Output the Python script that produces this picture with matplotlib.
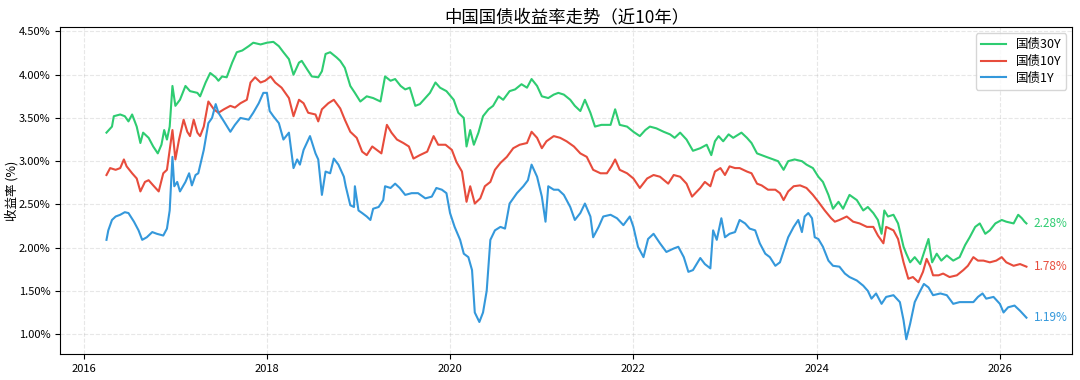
import pandas as pd
import matplotlib
matplotlib.use("Agg")
import matplotlib.pyplot as plt
import matplotlib.dates as mdates
from matplotlib.ticker import FuncFormatter

plt.rcParams['font.family'] = ['Noto Sans CJK SC', 'DejaVu Sans']
plt.rcParams['axes.unicode_minus'] = False

# (decimal year, yield %)
cgb_30y = [
    (2016.25, 3.33), (2016.31, 3.40), (2016.33, 3.52), (2016.40, 3.54), (2016.45, 3.52),
    (2016.49, 3.46), (2016.53, 3.54), (2016.58, 3.40), (2016.62, 3.21), (2016.65, 3.33),
    (2016.71, 3.27), (2016.76, 3.17), (2016.81, 3.09), (2016.85, 3.19), (2016.88, 3.36),
    (2016.91, 3.25), (2016.94, 3.40), (2016.97, 3.87), (2017.00, 3.64), (2017.05, 3.71),
    (2017.11, 3.87), (2017.16, 3.81), (2017.24, 3.79), (2017.27, 3.75), (2017.33, 3.91),
    (2017.38, 4.02), (2017.44, 3.97), (2017.47, 3.93), (2017.51, 3.98), (2017.56, 3.97),
    (2017.62, 4.14), (2017.67, 4.26), (2017.73, 4.28), (2017.80, 4.33), (2017.85, 4.37),
    (2017.93, 4.35), (2018.00, 4.37), (2018.07, 4.38), (2018.13, 4.33), (2018.18, 4.26),
    (2018.24, 4.18), (2018.29, 4.00), (2018.35, 4.14), (2018.38, 4.16), (2018.44, 4.06),
    (2018.49, 3.98), (2018.56, 3.97), (2018.60, 4.04), (2018.64, 4.24), (2018.69, 4.26),
    (2018.76, 4.20), (2018.80, 4.16), (2018.85, 4.08), (2018.91, 3.87), (2018.96, 3.79),
    (2019.02, 3.69), (2019.09, 3.75), (2019.16, 3.73), (2019.24, 3.69), (2019.29, 3.98),
    (2019.35, 3.93), (2019.40, 3.95), (2019.46, 3.87), (2019.51, 3.83), (2019.56, 3.85),
    (2019.62, 3.64), (2019.67, 3.66), (2019.73, 3.73), (2019.78, 3.79), (2019.84, 3.91),
    (2019.89, 3.85), (2019.96, 3.81), (2020.04, 3.71), (2020.09, 3.56), (2020.15, 3.50),
    (2020.18, 3.17), (2020.22, 3.36), (2020.26, 3.19), (2020.31, 3.33), (2020.36, 3.52),
    (2020.42, 3.60), (2020.47, 3.64), (2020.53, 3.75), (2020.58, 3.71), (2020.65, 3.81),
    (2020.71, 3.83), (2020.78, 3.89), (2020.84, 3.85), (2020.89, 3.95), (2020.95, 3.87),
    (2021.00, 3.75), (2021.07, 3.73), (2021.13, 3.77), (2021.18, 3.79), (2021.24, 3.77),
    (2021.31, 3.71), (2021.36, 3.64), (2021.42, 3.58), (2021.47, 3.71), (2021.53, 3.56),
    (2021.58, 3.40), (2021.65, 3.42), (2021.75, 3.42), (2021.80, 3.60), (2021.85, 3.42),
    (2021.93, 3.40), (2022.00, 3.34), (2022.07, 3.29), (2022.13, 3.36), (2022.18, 3.40),
    (2022.25, 3.38), (2022.33, 3.34), (2022.40, 3.31), (2022.45, 3.27), (2022.51, 3.33),
    (2022.58, 3.25), (2022.65, 3.12), (2022.73, 3.15), (2022.80, 3.19), (2022.85, 3.07),
    (2022.89, 3.23), (2022.93, 3.29), (2022.98, 3.23), (2023.04, 3.31), (2023.09, 3.27),
    (2023.15, 3.31), (2023.18, 3.33), (2023.24, 3.27), (2023.29, 3.21), (2023.35, 3.09),
    (2023.40, 3.07), (2023.45, 3.05), (2023.53, 3.02), (2023.58, 3.00), (2023.64, 2.90),
    (2023.69, 3.00), (2023.76, 3.02), (2023.84, 3.00), (2023.89, 2.96), (2023.96, 2.92),
    (2024.02, 2.82), (2024.07, 2.76), (2024.13, 2.61), (2024.18, 2.45), (2024.24, 2.53),
    (2024.29, 2.45), (2024.36, 2.61), (2024.44, 2.55), (2024.51, 2.43), (2024.56, 2.47),
    (2024.62, 2.40), (2024.67, 2.32), (2024.71, 2.16), (2024.74, 2.43), (2024.78, 2.36),
    (2024.84, 2.38), (2024.89, 2.28), (2024.95, 2.01), (2024.98, 1.93), (2025.02, 1.83),
    (2025.07, 1.89), (2025.13, 1.81), (2025.18, 1.97), (2025.22, 2.10), (2025.26, 1.83),
    (2025.31, 1.93), (2025.36, 1.85), (2025.42, 1.91), (2025.49, 1.85), (2025.56, 1.89),
    (2025.62, 2.03), (2025.67, 2.12), (2025.73, 2.24), (2025.78, 2.28), (2025.84, 2.16),
    (2025.89, 2.20), (2025.95, 2.28), (2026.02, 2.32), (2026.07, 2.30), (2026.15, 2.28),
    (2026.20, 2.38), (2026.24, 2.34), (2026.27, 2.30), (2026.29, 2.28),
]

cgb_10y = [
    (2016.25, 2.84), (2016.29, 2.92), (2016.35, 2.90), (2016.40, 2.92), (2016.44, 3.02),
    (2016.47, 2.94), (2016.53, 2.86), (2016.58, 2.80), (2016.62, 2.65), (2016.67, 2.76),
    (2016.71, 2.78), (2016.76, 2.72), (2016.82, 2.65), (2016.87, 2.86), (2016.91, 2.90),
    (2016.95, 3.21), (2016.97, 3.36), (2017.00, 3.02), (2017.04, 3.25), (2017.09, 3.48),
    (2017.13, 3.34), (2017.16, 3.29), (2017.20, 3.48), (2017.24, 3.33), (2017.27, 3.29),
    (2017.31, 3.40), (2017.36, 3.69), (2017.42, 3.60), (2017.47, 3.56), (2017.53, 3.60),
    (2017.60, 3.64), (2017.65, 3.62), (2017.71, 3.67), (2017.78, 3.71), (2017.82, 3.91),
    (2017.87, 3.97), (2017.93, 3.91), (2017.98, 3.93), (2018.04, 3.98), (2018.09, 3.91),
    (2018.16, 3.85), (2018.24, 3.73), (2018.29, 3.52), (2018.35, 3.71), (2018.40, 3.67),
    (2018.45, 3.56), (2018.53, 3.54), (2018.56, 3.46), (2018.60, 3.60), (2018.67, 3.67),
    (2018.73, 3.71), (2018.80, 3.61), (2018.85, 3.48), (2018.91, 3.34), (2018.98, 3.27),
    (2019.04, 3.11), (2019.09, 3.07), (2019.15, 3.17), (2019.20, 3.13), (2019.25, 3.09),
    (2019.31, 3.42), (2019.36, 3.33), (2019.42, 3.25), (2019.49, 3.21), (2019.55, 3.17),
    (2019.60, 3.03), (2019.67, 3.07), (2019.75, 3.11), (2019.82, 3.29), (2019.87, 3.19),
    (2019.95, 3.19), (2020.02, 3.13), (2020.07, 2.99), (2020.13, 2.88), (2020.18, 2.53),
    (2020.22, 2.71), (2020.27, 2.51), (2020.33, 2.57), (2020.38, 2.71), (2020.44, 2.76),
    (2020.49, 2.90), (2020.55, 2.98), (2020.62, 3.05), (2020.69, 3.15), (2020.76, 3.19),
    (2020.84, 3.21), (2020.89, 3.34), (2020.95, 3.27), (2021.00, 3.15), (2021.05, 3.23),
    (2021.13, 3.29), (2021.20, 3.27), (2021.27, 3.23), (2021.35, 3.17), (2021.42, 3.09),
    (2021.49, 3.05), (2021.56, 2.90), (2021.64, 2.86), (2021.71, 2.86), (2021.76, 2.94),
    (2021.80, 3.02), (2021.85, 2.90), (2021.93, 2.86), (2022.00, 2.80), (2022.07, 2.69),
    (2022.15, 2.80), (2022.22, 2.84), (2022.29, 2.82), (2022.38, 2.74), (2022.44, 2.84),
    (2022.51, 2.82), (2022.58, 2.74), (2022.64, 2.59), (2022.73, 2.69), (2022.78, 2.76),
    (2022.84, 2.71), (2022.89, 2.88), (2022.95, 2.92), (2023.00, 2.84), (2023.05, 2.94),
    (2023.11, 2.92), (2023.16, 2.92), (2023.24, 2.88), (2023.29, 2.86), (2023.35, 2.74),
    (2023.40, 2.72), (2023.47, 2.67), (2023.55, 2.67), (2023.60, 2.63), (2023.64, 2.55),
    (2023.69, 2.65), (2023.75, 2.71), (2023.82, 2.72), (2023.89, 2.69), (2023.96, 2.61),
    (2024.02, 2.53), (2024.09, 2.43), (2024.16, 2.34), (2024.20, 2.30), (2024.25, 2.32),
    (2024.33, 2.36), (2024.40, 2.30), (2024.47, 2.28), (2024.55, 2.24), (2024.62, 2.24),
    (2024.67, 2.14), (2024.73, 2.05), (2024.76, 2.24), (2024.84, 2.20), (2024.89, 2.10),
    (2024.95, 1.83), (2025.00, 1.64), (2025.05, 1.66), (2025.11, 1.60), (2025.16, 1.72),
    (2025.20, 1.87), (2025.24, 1.78), (2025.27, 1.68), (2025.33, 1.68), (2025.38, 1.70),
    (2025.45, 1.66), (2025.53, 1.68), (2025.60, 1.74), (2025.65, 1.79), (2025.71, 1.89),
    (2025.76, 1.85), (2025.82, 1.85), (2025.89, 1.83), (2025.96, 1.85), (2026.02, 1.89),
    (2026.07, 1.83), (2026.15, 1.79), (2026.22, 1.81), (2026.29, 1.78),
]

cgb_1y = [
    (2016.25, 2.09), (2016.27, 2.20), (2016.31, 2.32), (2016.35, 2.36), (2016.40, 2.38),
    (2016.45, 2.41), (2016.49, 2.40), (2016.55, 2.30), (2016.60, 2.20), (2016.64, 2.09),
    (2016.69, 2.12), (2016.75, 2.18), (2016.80, 2.16), (2016.87, 2.14), (2016.91, 2.22),
    (2016.94, 2.43), (2016.97, 3.05), (2016.99, 2.71), (2017.02, 2.76), (2017.05, 2.65),
    (2017.11, 2.76), (2017.15, 2.86), (2017.18, 2.72), (2017.22, 2.84), (2017.25, 2.86),
    (2017.31, 3.13), (2017.36, 3.44), (2017.40, 3.50), (2017.44, 3.66), (2017.47, 3.56),
    (2017.53, 3.46), (2017.60, 3.34), (2017.65, 3.42), (2017.71, 3.50), (2017.80, 3.48),
    (2017.85, 3.56), (2017.91, 3.67), (2017.96, 3.79), (2018.00, 3.79), (2018.03, 3.58),
    (2018.07, 3.52), (2018.13, 3.44), (2018.18, 3.25), (2018.24, 3.33), (2018.29, 2.92),
    (2018.33, 3.02), (2018.36, 2.96), (2018.40, 3.13), (2018.47, 3.29), (2018.53, 3.09),
    (2018.56, 3.02), (2018.60, 2.61), (2018.64, 2.88), (2018.69, 2.86), (2018.73, 3.03),
    (2018.78, 2.96), (2018.84, 2.82), (2018.86, 2.71), (2018.91, 2.49), (2018.95, 2.47),
    (2018.96, 2.71), (2019.00, 2.43), (2019.04, 2.40), (2019.09, 2.36), (2019.13, 2.32),
    (2019.16, 2.45), (2019.22, 2.47), (2019.27, 2.55), (2019.29, 2.71), (2019.35, 2.69),
    (2019.40, 2.74), (2019.45, 2.69), (2019.51, 2.61), (2019.58, 2.63), (2019.65, 2.63),
    (2019.73, 2.57), (2019.80, 2.59), (2019.85, 2.69), (2019.91, 2.67), (2019.96, 2.63),
    (2020.00, 2.40), (2020.05, 2.24), (2020.11, 2.09), (2020.15, 1.93), (2020.20, 1.89),
    (2020.24, 1.74), (2020.27, 1.25), (2020.32, 1.14), (2020.36, 1.25), (2020.40, 1.50),
    (2020.44, 2.09), (2020.49, 2.20), (2020.55, 2.24), (2020.60, 2.22), (2020.65, 2.51),
    (2020.73, 2.63), (2020.80, 2.71), (2020.85, 2.78), (2020.89, 2.96), (2020.95, 2.82),
    (2021.00, 2.59), (2021.04, 2.30), (2021.07, 2.71), (2021.13, 2.67), (2021.18, 2.67),
    (2021.24, 2.61), (2021.31, 2.47), (2021.36, 2.32), (2021.42, 2.40), (2021.47, 2.51),
    (2021.53, 2.36), (2021.56, 2.12), (2021.62, 2.24), (2021.67, 2.36), (2021.75, 2.38),
    (2021.82, 2.34), (2021.89, 2.26), (2021.96, 2.36), (2022.00, 2.24), (2022.05, 2.01),
    (2022.11, 1.89), (2022.16, 2.10), (2022.22, 2.16), (2022.29, 2.05), (2022.36, 1.95),
    (2022.44, 1.99), (2022.49, 2.01), (2022.55, 1.89), (2022.60, 1.72), (2022.65, 1.74),
    (2022.73, 1.88), (2022.78, 1.81), (2022.84, 1.76), (2022.87, 2.20), (2022.91, 2.09),
    (2022.96, 2.34), (2023.00, 2.12), (2023.05, 2.16), (2023.11, 2.18), (2023.16, 2.32),
    (2023.22, 2.28), (2023.27, 2.22), (2023.33, 2.20), (2023.38, 2.05), (2023.44, 1.93),
    (2023.49, 1.89), (2023.55, 1.79), (2023.60, 1.83), (2023.65, 1.99), (2023.69, 2.12),
    (2023.75, 2.24), (2023.80, 2.32), (2023.84, 2.18), (2023.87, 2.36), (2023.91, 2.40),
    (2023.95, 2.34), (2023.98, 2.12), (2024.02, 2.10), (2024.07, 2.01), (2024.13, 1.85),
    (2024.18, 1.79), (2024.25, 1.78), (2024.31, 1.70), (2024.36, 1.66), (2024.44, 1.62),
    (2024.51, 1.56), (2024.56, 1.50), (2024.60, 1.41), (2024.65, 1.47), (2024.71, 1.35),
    (2024.76, 1.43), (2024.84, 1.45), (2024.91, 1.37), (2024.95, 1.16), (2024.98, 0.94),
    (2025.02, 1.12), (2025.07, 1.37), (2025.13, 1.50), (2025.17, 1.58), (2025.22, 1.54),
    (2025.27, 1.45), (2025.35, 1.47), (2025.42, 1.45), (2025.49, 1.35), (2025.56, 1.37),
    (2025.64, 1.37), (2025.71, 1.37), (2025.76, 1.43), (2025.81, 1.47), (2025.85, 1.41),
    (2025.93, 1.43), (2026.00, 1.35), (2026.04, 1.25), (2026.09, 1.31), (2026.16, 1.33),
    (2026.22, 1.27), (2026.29, 1.19),
]

series_names = ['国债30Y', '国债10Y', '国债1Y']
series_colors = ['#2ecc71', '#e74c3c', '#3498db']


def to_dates(years):
    out = []
    for t in years:
        y = int(t)
        out.append(pd.Timestamp(year=y, month=1, day=1) + pd.Timedelta(days=(t - y) * 365.25))
    return out


fig, ax = plt.subplots(figsize=(10.8, 3.8), dpi=100)
fig.subplots_adjust(left=0.056, right=0.993, top=0.929, bottom=0.068)

for data, name, color in zip([cgb_30y, cgb_10y, cgb_1y], series_names, series_colors):
    t, v = zip(*data)
    d = to_dates(t)
    ax.plot(d, v, color=color, linewidth=1.5, label=name)
    # end value label
    ax.text(d[-1] + pd.Timedelta(days=30), v[-1], f"{v[-1]:.2f}%", color=color,
            fontsize=8.5, va='center', ha='left')

ax.set_title('中国国债收益率走势（近10年）', fontsize=12.5, pad=3)
ax.set_ylabel('收益率 (%)', fontsize=9)
ax.yaxis.set_label_coords(-0.041, 0.5)
ax.yaxis.set_major_formatter(FuncFormatter(lambda val, pos: f"{val:.2f}%"))
ax.xaxis.set_major_locator(mdates.YearLocator(2))
ax.xaxis.set_major_formatter(mdates.DateFormatter('%Y'))
ax.tick_params(labelsize=8)
ax.grid(True, linestyle='--', alpha=0.3)
ax.legend(loc='upper right', fontsize=9, labelspacing=0.3)

plt.savefig('out.png', dpi=100)
